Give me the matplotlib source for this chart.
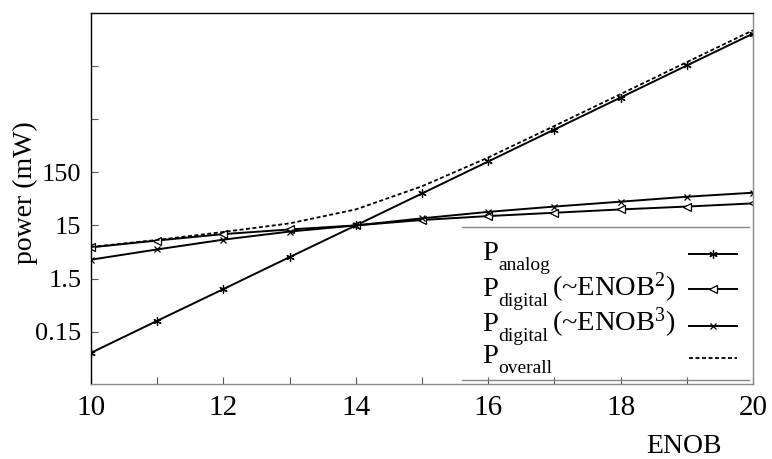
import matplotlib
matplotlib.use("Agg")
import matplotlib.pyplot as plt
from matplotlib.lines import Line2D
from matplotlib.ticker import FixedLocator, NullFormatter, FixedFormatter

plt.rcParams['font.family'] = ['Liberation Serif', 'DejaVu Serif']
plt.rcParams['mathtext.fontset'] = 'custom'
plt.rcParams['mathtext.rm'] = 'Liberation Serif'
plt.rcParams['mathtext.it'] = 'Liberation Serif:italic'

enob = [10, 11, 12, 13, 14, 15, 16, 17, 18, 19, 20]
p_analog = [0.06, 0.24, 0.95, 3.8, 15, 60, 240, 960, 3840, 15400, 61400]
p_digital2 = [5.8, 7.8, 10.3, 12.6, 15, 19, 22.5, 26, 30, 34, 39]
p_digital3 = [3.4, 5.3, 8.1, 11.5, 15, 20.4, 27, 34, 42, 52, 62]
p_overall = [5.9, 8.0, 11.3, 16.4, 30, 82, 285, 1120, 4450, 17800, 71000]

y_ticks = [0.15, 1.5, 15, 150, 1500, 15000]
y_ticklabels = ['0.15', '1.5', '15', '150', '', '']
x_ticks = [10, 12, 14, 16, 18, 20]

# legend entries: (main letter, subscript, trailing text)
legend_entries = [('P', 'analog', ''),
                  ('P', 'digital', r'(~ENOB$^2$)'),
                  ('P', 'digital', r'(~ENOB$^3$)'),
                  ('P', 'overall', '')]

W, H = 772, 459
fig = plt.figure(figsize=(W / 100, H / 100), dpi=100)
ax = fig.add_axes([0.1179, 0.1634, 0.8575, 0.8083])


def fx(px):
    return px / W


def fy(py):
    return 1 - py / H


lw = 1.4
styles = [
    dict(color='black', lw=lw, marker=(6, 2, 0), ms=6, mew=0.9),
    dict(color='black', lw=lw, marker='<', ms=6, mfc='white', mew=0.9),
    dict(color='black', lw=lw, marker='x', ms=4.5, mew=0.9),
    dict(color='black', lw=1.3, ls=(0, (2.2, 1.4))),
]
series = [p_analog, p_digital2, p_digital3, p_overall]
for vals, st in zip(series, styles):
    ax.plot(enob, vals, **st)

ax.set_yscale('log')
ax.set_xlim(10, 20)
ax.set_ylim(0.0155, 150000)

ax.yaxis.set_major_locator(FixedLocator(y_ticks))
ax.yaxis.set_major_formatter(FixedFormatter(y_ticklabels))
ax.yaxis.set_minor_locator(FixedLocator([]))
ax.yaxis.set_minor_formatter(NullFormatter())
ax.set_xticks(x_ticks)
ax.set_xticks(range(10, 21), minor=True)

ax.tick_params(axis='both', which='both', direction='in', length=5, width=0.8,
               color='#555555')
ax.tick_params(axis='x', which='major', labelsize=21, pad=8)
ax.tick_params(axis='y', which='major', labelsize=19, pad=7)

for side in ['top', 'left']:
    ax.spines[side].set_color('black')
    ax.spines[side].set_linewidth(1.0)
for side in ['right', 'bottom']:
    ax.spines[side].set_color('#888888')
    ax.spines[side].set_linewidth(1.0)

ax.set_ylabel('power (mW)', fontsize=20)
ax.yaxis.set_label_coords(-0.08, 0.515)
ax.set_xlabel('ENOB', fontsize=20)
ax.xaxis.set_label_coords(0.895, -0.135)

# legend block: labels on the left, sample lines on the right
text_baselines = [260, 296, 331, 363]
handle_rows = [254, 289, 326, 358]
for (main, sub, rest), tb, hy, st in zip(legend_entries, text_baselines,
                                         handle_rows, styles):
    fig.text(fx(482), fy(tb), main, fontsize=20.5, ha='left', va='baseline')
    fig.text(fx(498), fy(tb + 10), sub, fontsize=14, ha='left', va='baseline')
    if rest:
        fig.text(fx(552), fy(tb), rest, fontsize=20.5, ha='left', va='baseline')
    sample = dict(st)
    sample['markevery'] = [1]
    fig.add_artist(Line2D([fx(689), fx(713), fx(737)], [fy(hy)] * 3,
                          transform=fig.transFigure, **sample))

# horizontal rules above and below the legend block
for py in [227, 380]:
    fig.add_artist(Line2D([fx(462), fx(749)], [fy(py), fy(py)],
                          transform=fig.transFigure, color='#888888', lw=1.0))

fig.savefig('out.png', dpi=100)
